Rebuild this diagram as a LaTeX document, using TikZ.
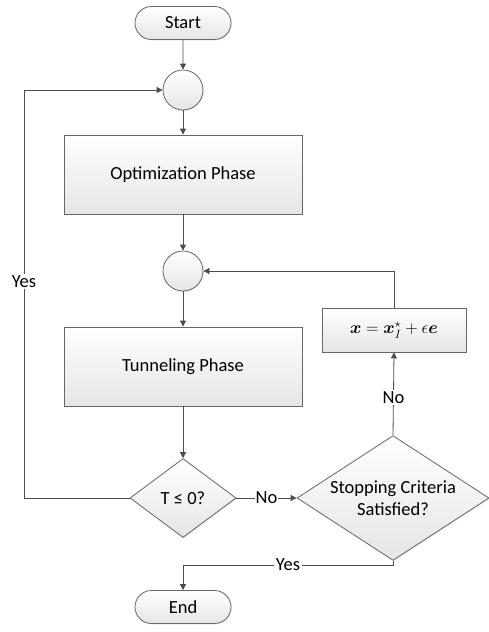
\documentclass[tikz,border=0pt]{standalone}
\usepackage{amsmath}
\usepackage{bm}
\usepackage{fontspec}
\setmainfont{Carlito}
\usepackage{tikz}
\usetikzlibrary{arrows.meta,shapes.geometric,shapes.misc,shadows}

\begin{document}
\begin{tikzpicture}[x=1pt,y=-1pt,font=\fontsize{18.5}{22}\selectfont,
    line width=0.8pt,
    flow/.style={draw=black!60,shading=axis,top color=white,bottom color=black!10,
        drop shadow={opacity=0.15,shadow xshift=1pt,shadow yshift=-1pt}},
    term/.style={flow,rounded rectangle,minimum width=96,minimum height=33,inner sep=0},
    joint/.style={flow,circle,minimum size=40,inner sep=0},
    phase/.style={flow,rectangle,minimum width=238,minimum height=79,inner sep=0},
    decide/.style={flow,diamond,inner sep=0},
    link/.style={draw=black!70,-{Triangle[width=6pt,length=6pt]}},
    lbl/.style={fill=white,inner sep=1.5pt}]
                \useasboundingbox (0,0) rectangle (489,632);
                % nodes
                \node[term] (start) at (183,23) {Start};
                \node[joint] (c1) at (183,90) {};
                \node[phase] (opt) at (183,174.5) {Optimization Phase};
                \node[joint] (c2) at (183,271) {};
                \node[phase] (tun) at (183,366.5) {Tunneling Phase};
                \node[decide,minimum width=106,minimum height=79] (dT) at (183,498) {T ≤ 0?};
                \node[decide,minimum width=192,minimum height=113,align=center,aspect=1.4] (dS) at (393,498)
                    {Stopping Criteria\\Satisfied?};
                \node[flow,rectangle,minimum width=144,minimum height=44,inner sep=0] (upd) at (394,330)
                    {$\bm{x}=\bm{x}_{I}^{\star}+\epsilon\bm{e}$};
                \node[term] (end) at (183,607) {End};
                % connectors
                \draw[link] (start) -- (c1);
                \draw[link] (c1) -- (opt);
                \draw[link] (opt) -- (c2);
                \draw[link] (c2) -- (tun);
                \draw[link] (tun) -- (dT);
                \draw[link] (dT.west) -- (24,498) -- node[lbl,pos=0.53]{Yes} (24,90) -- (c1.west);
                \draw[link] (dT.east) -- node[lbl,inner sep=0.5pt]{No} (dS.west);
                \draw[link] (dS.north) -- node[lbl,pos=0.45]{No} (upd.south);
                \draw[link] (upd.north) |- (c2.east);
                \draw[link] (dS.south) |- node[lbl,pos=0.75]{Yes} (183,565) -- (end.north);
            \end{tikzpicture}
\end{document}
